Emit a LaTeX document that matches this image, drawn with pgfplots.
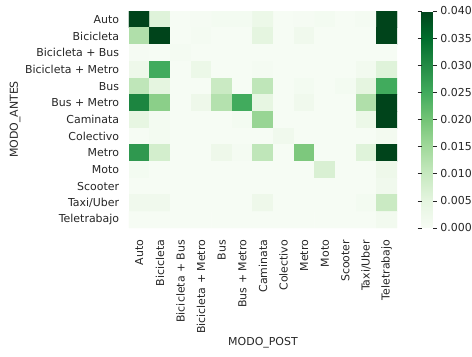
\documentclass[border=0pt]{standalone}
\usepackage{pgfplots}
\pgfplotsset{compat=1.18}
\usepackage{fontspec}
\setmainfont{DejaVu Sans}
\definecolor{txt}{HTML}{262626}
\begin{document}
\fontsize{11}{13}\selectfont
\begin{tikzpicture}
\useasboundingbox (-129bp,-129bp) rectangle (343bp,228bp);
\begin{axis}[
  at={(0,0)}, anchor=south west,
  scale only axis, width=268bp, height=217bp,
  xmin=-0.5, xmax=12.5, ymin=-0.5, ymax=12.5,
  enlargelimits=false, y dir=reverse,
  axis line style={draw=none},
  major tick length=0pt,
  xtick={0,...,12}, ytick={0,...,12},
  xticklabels={Auto,Bicicleta,Bicicleta + Bus,Bicicleta + Metro,Bus,Bus + Metro,Caminata,Colectivo,Metro,Moto,Scooter,Taxi/Uber,Teletrabajo},
  yticklabels={Auto,Bicicleta,Bicicleta + Bus,Bicicleta + Metro,Bus,Bus + Metro,Caminata,Colectivo,Metro,Moto,Scooter,Taxi/Uber,Teletrabajo},
  xticklabel style={rotate=90, anchor=east, xshift=-8bp, font=\fontsize{11}{13}\selectfont, text=txt},
  yticklabel style={xshift=-6bp, font=\fontsize{11}{13}\selectfont, text=txt},
  xlabel={MODO\_POST}, ylabel={MODO\_ANTES},
  every axis x label/.style={at={(axis description cs:0.5,-0.530)}, anchor=center, font=\fontsize{11}{13}\selectfont, text=txt},
  every axis y label/.style={at={(axis description cs:-0.4254,0.5)}, anchor=center, rotate=90, font=\fontsize{11}{13}\selectfont, text=txt},
  colormap={greens}{rgb255=(247,252,245) rgb255=(229,245,224) rgb255=(199,233,192) rgb255=(161,217,155) rgb255=(116,196,118) rgb255=(65,171,93) rgb255=(35,139,69) rgb255=(0,109,44) rgb255=(0,68,27)},
  point meta min=0, point meta max=0.04,
  colorbar,
  colorbar style={
    at={(parent axis.north east)}, anchor=north west, xshift=16bp,
    width=11bp, height=217bp,
    axis line style={draw=none},
    ytick={0,0.005,0.01,0.015,0.02,0.025,0.03,0.035,0.04},
    yticklabel pos=right,
    major tick length=4bp, tick align=outside,
    major tick style={txt, line width=0.6pt},
    yticklabel style={font=\fontsize{11}{13}\selectfont, text=txt,
      /pgf/number format/assume math mode=true,
      /pgf/number format/fixed, /pgf/number format/fixed zerofill,
      /pgf/number format/precision=3},
    scaled y ticks=false,
  },
]
\addplot[matrix plot*, mesh/cols=13, point meta=explicit, draw=none] table[meta=c] {
x y c
0 0 0.040
1 0 0.006
2 0 0.0003
3 0 0.0005
4 0 0.001
5 0 0.001
6 0 0.003
7 0 0.0003
8 0 0.0005
9 0 0.001
10 0 0.0003
11 0 0.0008
12 0 0.040
0 1 0.013
1 1 0.040
2 1 0.0002
3 1 0.0008
4 1 0.0002
5 1 0.0002
6 1 0.005
7 1 0.0002
8 1 0.002
9 1 0.0002
10 1 0.0002
11 1 0.0003
12 1 0.040
0 2 0.0005
1 2 0.0002
2 2 0.0008
3 2 0.0002
4 2 0.0002
5 2 0.0002
6 2 0.0002
7 2 0.0002
8 2 0.0002
9 2 0.0002
10 2 0.0002
11 2 0.0002
12 2 0.0002
0 3 0.0025
1 3 0.025
2 3 0.0002
3 3 0.003
4 3 0.0002
5 3 0.0002
6 3 0.0008
7 3 0.0003
8 3 0.0003
9 3 0.0003
10 3 0.0003
11 3 0.0015
12 3 0.006
0 4 0.011
1 4 0.005
2 4 0.0003
3 4 0.0003
4 4 0.0095
5 4 0.0003
6 4 0.011
7 4 0.0003
8 4 0.001
9 4 0.0003
10 4 0.001
11 4 0.005
12 4 0.025
0 5 0.031
1 5 0.0175
2 5 0.0003
3 5 0.0025
4 5 0.0125
5 5 0.025
6 5 0.0045
7 5 0.0003
8 5 0.002
9 5 0.0003
10 5 0.0003
11 5 0.013
12 5 0.040
0 6 0.0045
1 6 0.001
2 6 0.0002
3 6 0.0003
4 6 0.0003
5 6 0.001
6 6 0.016
7 6 0.0003
8 6 0.0003
9 6 0.0003
10 6 0.0003
11 6 0.003
12 6 0.040
0 7 0.0003
1 7 0.001
2 7 0.0003
3 7 0.0003
4 7 0.0003
5 7 0.0003
6 7 0.0003
7 7 0.002
8 7 0.0003
9 7 0.0003
10 7 0.0003
11 7 0.0003
12 7 0.0012
0 8 0.028
1 8 0.008
2 8 0.0003
3 8 0.0003
4 8 0.0025
5 8 0.0008
6 8 0.011
7 8 0.0003
8 8 0.019
9 8 0.0003
10 8 0.0003
11 8 0.006
12 8 0.040
0 9 0.001
1 9 0.0003
2 9 0.0003
3 9 0.0003
4 9 0.0003
5 9 0.0003
6 9 0.0003
7 9 0.0003
8 9 0.0003
9 9 0.007
10 9 0.0003
11 9 0.0003
12 9 0.0025
0 10 0.0003
1 10 0.0003
2 10 0.0003
3 10 0.0003
4 10 0.0003
5 10 0.0003
6 10 0.0003
7 10 0.0003
8 10 0.0003
9 10 0.0003
10 10 0.0003
11 10 0.0003
12 10 0.002
0 11 0.002
1 11 0.002
2 11 0.0003
3 11 0.0003
4 11 0.0003
5 11 0.0003
6 11 0.0025
7 11 0.0003
8 11 0.0003
9 11 0.0003
10 11 0.0003
11 11 0.001
12 11 0.0095
0 12 0.0003
1 12 0.0003
2 12 0.0003
3 12 0.0003
4 12 0.0003
5 12 0.0003
6 12 0.0003
7 12 0.0003
8 12 0.0003
9 12 0.0003
10 12 0.0003
11 12 0.0003
12 12 0.0015
};
\end{axis}
\end{tikzpicture}
\end{document}
